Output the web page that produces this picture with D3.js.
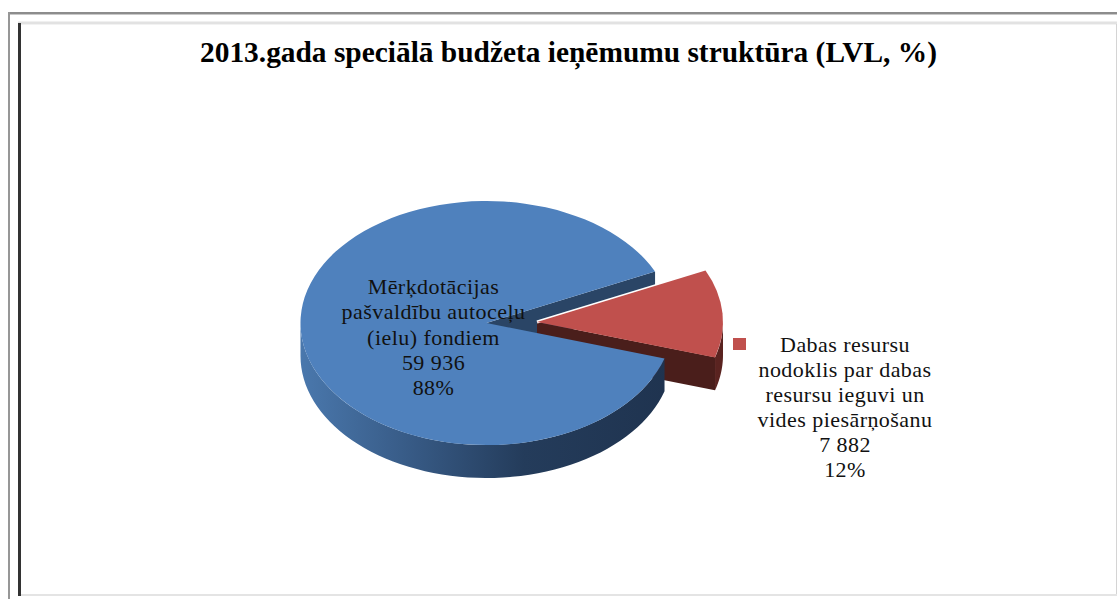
<!DOCTYPE html>
<html>
<head>
<meta charset="utf-8">
<script src="https://cdn.jsdelivr.net/npm/d3@7"></script>
<style>
  html, body { margin: 0; padding: 0; background: #fff; overflow: hidden; }
  .title { font: bold 29.4px "Liberation Serif"; fill: #000; text-anchor: middle; }
  .label { font: 22px "Liberation Serif"; fill: #111; text-anchor: middle; letter-spacing: 0.45px; }
</style>
</head>
<body>
<div id="chart"></div>
<script>
// chart data
var titleText = "2013.gada speciālā budžeta ieņēmumu struktūra (LVL, %)";
var categories = ["Dabas resursu nodoklis", "Mērķdotācijas"];
var values = [7882, 59936];
var sliceColors = ["#c0504d", "#4f81bd"];
var sliceLabels = [
    ["Dabas resursu", "nodoklis par dabas", "resursu ieguvi un", "vides piesārņošanu", "7 882", "12%"],
    ["Mērķdotācijas", "pašvaldību autoceļu", "(ielu) fondiem", "59 936", "88%"]
];

var width = 1117, height = 599;

// pie is drawn as a tilted disc
var rx = 186, ry = 122, depth = 33;
var centers = [{x: 537, y: 322}, {x: 486.5, y: 323}];
var firstAngle = 65 * Math.PI / 180;

var svg = d3.select("#chart").append("svg")
    .attr("width", width)
    .attr("height", height);

// page frame around the picture
function frame(x, y, w, h, color) {
    svg.append("rect").attr("x", x).attr("y", y).attr("width", w).attr("height", h).attr("fill", color);
}
frame(8, 12, 1109, 2, "#8c8c8c");
frame(8, 14, 1109, 1, "#c8c8c8");
frame(8, 12, 2, 587, "#979797");
frame(18, 21, 1099, 1, "#f0f0f0");
frame(18, 22, 1099, 2, "#e2e2e2");
frame(18, 24, 1099, 1, "#f2f2f2");
frame(18, 23, 3, 573, "#333333");
frame(1116, 24, 1, 571, "#d4d4d4");
frame(21, 594, 1096, 2, "#e4e4e4");

var defs = svg.append("defs");
var wallGradient = defs.append("linearGradient")
    .attr("id", "blueWall")
    .attr("gradientUnits", "userSpaceOnUse")
    .attr("x1", 300).attr("x2", 673).attr("y1", 0).attr("y2", 0);
wallGradient.selectAll("stop")
    .data([[0, "#4a78ad"], [0.3, "#375a85"], [0.6, "#243c5b"], [1, "#1f334f"]])
    .enter().append("stop")
    .attr("offset", function(d) { return d[0]; })
    .attr("stop-color", function(d) { return d[1]; });

var slices = d3.pie()
    .sort(null)
    .startAngle(firstAngle)
    .endAngle(firstAngle + 2 * Math.PI)(values);

function rim(center, angle, drop) {
    return [center.x + rx * Math.sin(angle), center.y - ry * Math.cos(angle) + (drop || 0)];
}

// outer wall between two angles
function wallPath(center, a0, a1) {
    var steps = d3.range(0, 61).map(function(i) { return a0 + (a1 - a0) * i / 60; });
    var top = steps.map(function(a) { return rim(center, a, 0); });
    var bottom = steps.slice().reverse().map(function(a) { return rim(center, a, depth); });
    return d3.line()(top.concat(bottom)) + "Z";
}

// flat wall along one cut edge of a slice
function cutPath(center, angle) {
    return d3.line()([
        [center.x, center.y],
        rim(center, angle, 0),
        rim(center, angle, depth),
        [center.x, center.y + depth]
    ]) + "Z";
}

var arc = d3.arc().innerRadius(0).outerRadius(1);
var red = slices[0], blue = slices[1];

// blue cut wall sits behind the exploded red slice
svg.append("path").attr("d", cutPath(centers[1], blue.endAngle)).attr("fill", "#2a4566");

// red walls
svg.append("path").attr("d", cutPath(centers[0], red.endAngle)).attr("fill", "#4a1e1b");
svg.append("path").attr("d", wallPath(centers[0], Math.PI / 2, red.endAngle)).attr("fill", "#5a2320");

// thin gap above the red slice
svg.append("line")
    .attr("x1", centers[0].x).attr("y1", centers[0].y)
    .attr("x2", rim(centers[0], red.startAngle)[0]).attr("y2", rim(centers[0], red.startAngle)[1])
    .attr("stroke", "#fff").attr("stroke-width", 3);

// red top
svg.append("path")
    .attr("d", arc(red))
    .attr("transform", "translate(" + centers[0].x + "," + centers[0].y + ") scale(" + rx + "," + ry + ")")
    .attr("fill", sliceColors[0]);

// blue outer wall and top
svg.append("path")
    .attr("d", wallPath(centers[1], blue.startAngle, 1.5 * Math.PI))
    .attr("fill", "url(#blueWall)");
svg.append("path")
    .attr("d", arc(blue))
    .attr("transform", "translate(" + centers[1].x + "," + centers[1].y + ") scale(" + rx + "," + ry + ")")
    .attr("fill", sliceColors[1]);

svg.append("text")
    .attr("class", "title")
    .attr("x", 568.5)
    .attr("y", 62)
    .text(titleText);

function labelBlock(lines, x, firstY, step) {
    svg.append("g").selectAll("text")
        .data(lines)
        .enter().append("text")
        .attr("class", "label")
        .attr("x", x)
        .attr("y", function(d, i) { return firstY + i * step; })
        .text(function(d) { return d; });
}
labelBlock(sliceLabels[1], 433.5, 294, 25.3);
labelBlock(sliceLabels[0], 845, 352, 25);

// legend key for the red slice
svg.append("rect")
    .attr("x", 733).attr("y", 338).attr("width", 13).attr("height", 12)
    .attr("fill", sliceColors[0]);
</script>
</body>
</html>
